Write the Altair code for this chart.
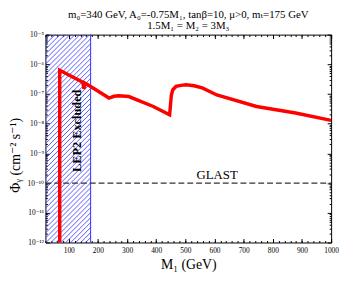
import altair as alt
import pandas as pd
import numpy as np

# ---- data ----
m1 = [69, 69, 148, 152, 156, 171, 238, 255, 272, 306, 390, 446, 452, 457, 468,
      485, 502, 530, 558, 608, 744, 878, 1000]
phi = [1e-12, 6.3e-7, 2.5e-7, 1.5e-7, 2.3e-7, 1.9e-7, 7.3e-8, 8.4e-8, 8.7e-8,
       8.2e-8, 3.8e-8, 2.0e-8, 9.3e-8, 1.4e-7, 1.8e-7, 1.95e-7, 2.05e-7, 1.9e-7,
       1.6e-7, 9.3e-8, 3.8e-8, 2.3e-8, 1.3e-8]
lep2_limit = 175
glast_level = 1e-10
x_domain = [20, 1000]
y_domain = [1e-12, 1e-5]
x_major = list(range(100, 1001, 100))
x_minor = list(range(20, 1001, 20))
y_major = [10.0 ** e for e in range(-12, -4)]
y_minor = [k * 10.0 ** e for e in range(-12, -5) for k in range(2, 10)]
texts = ["GLAST", "LEP2 Excluded"]
text_m1 = [609, 127]
text_phi = [1e-10, 5.8e-9]
title_lines = ["m\u2080=340 GeV,  A\u2080=-0.75M\u2081, tan\u03b2=10, \u03bc>0, m\u209c=175 GeV",
               "1.5M\u2081 = M\u2082 = 3M\u2083"]

font = "Liberation Serif, DejaVu Serif, serif"

curve = pd.DataFrame({"M1": m1, "phi": phi, "order": list(range(len(m1)))})

# hatch pattern for the excluded region (45 degree lines)
lo, hi = np.log10(y_domain[0]), np.log10(y_domain[1])
slope = 101.6   # M1 units per decade gives ~45 degrees on screen
step = 17.0
rows = []
a = float(lep2_limit)
while a > x_domain[0] - (hi - lo) * slope:
    xs = max(a, x_domain[0])
    xe = min(a + (hi - lo) * slope, lep2_limit)
    if xe > xs:
        rows.append({"x1": xs, "x2": xe,
                     "y1": 10 ** (lo + (xs - a) / slope),
                     "y2": 10 ** (lo + (xe - a) / slope)})
    a -= step
hatch = pd.DataFrame(rows)
bound = pd.DataFrame({"x": [lep2_limit], "y1": [y_domain[0]], "y2": [y_domain[1]]})
glast = pd.DataFrame({"x1": [x_domain[0]], "x2": [x_domain[1]], "y": [glast_level]})
lab = pd.DataFrame({"t": texts, "M1": text_m1, "phi": text_phi})

xs_ = alt.Scale(domain=x_domain, nice=False, zero=False)
ys_ = alt.Scale(type="log", domain=y_domain, nice=False)

common = dict(domain=False, grid=False, tickColor="black", labelColor="black",
              labelFont=font, labelFontSize=7.5)

sup = "['\u207b\u00b9\u00b2','\u207b\u00b9\u00b9','\u207b\u00b9\u2070','\u207b\u2079','\u207b\u2078','\u207b\u2077','\u207b\u2076','\u207b\u2075']"

ax_x_main = alt.Axis(orient="bottom", values=x_major, format="d", tickSize=4, offset=-4,
                     labelPadding=4, labelFlush=False, labelOverlap=False,
                     title="M\u2081 (GeV)", titleFont=font, titleFontSize=14,
                     titleFontWeight="normal", titleColor="black", titlePadding=4, **common)
ax_y_main = alt.Axis(orient="left", values=y_major, tickSize=4, offset=-4, labelPadding=2,
                     labelExpr="'10' + " + sup + "[round(log(datum.value)/LN10) + 12]",
                     labelFlush=False, labelOverlap=False,
                     title="\u03a6\u1d67 (cm\u207b\u00b2 s\u207b\u00b9)", titleFont=font,
                     titleFontSize=14, titleFontWeight="normal", titleColor="black",
                     titleAngle=270, titleAlign="center", titleBaseline="alphabetic",
                     titleX=-30.5, titleY=122, **common)
ax_x_minor_b = alt.Axis(orient="bottom", values=x_minor, tickSize=2, offset=-2, labels=False,
                        title=None, **common)
ax_y_minor_l = alt.Axis(orient="left", values=y_minor, tickSize=2, offset=-2, labels=False,
                        title=None, **common)
ax_x_top = alt.Axis(orient="top", values=x_major, tickSize=4, offset=-4, labels=False,
                    title=None, **common)
ax_y_right = alt.Axis(orient="right", values=y_major, tickSize=4, offset=-4, labels=False,
                      title=None, **common)
ax_x_minor_t = alt.Axis(orient="top", values=x_minor, tickSize=2, offset=-2, labels=False,
                        title=None, **common)
ax_y_minor_r = alt.Axis(orient="right", values=y_minor, tickSize=2, offset=-2, labels=False,
                        title=None, **common)

hatch_layer = alt.Chart(hatch).mark_rule(color="#4646ff", strokeWidth=0.9, clip=True).encode(
    x=alt.X("x1:Q", scale=xs_, axis=ax_x_main),
    x2="x2",
    y=alt.Y("y1:Q", scale=ys_, axis=ax_y_main),
    y2="y2",
)

bound_layer = alt.Chart(bound).mark_rule(color="#3030ff", strokeWidth=1).encode(
    x=alt.X("x:Q", scale=xs_, axis=None),
    y=alt.Y("y1:Q", scale=ys_, axis=None),
    y2="y2",
)

curve_layer = alt.Chart(curve).mark_line(color="#ff0000", strokeWidth=3.5, clip=True).encode(
    x=alt.X("M1:Q", scale=xs_, axis=ax_x_minor_b),
    y=alt.Y("phi:Q", scale=ys_, axis=ax_y_minor_l),
    order="order:Q",
)

glast_layer = alt.Chart(glast).mark_rule(color="#333333", strokeWidth=1.4,
                                         strokeDash=[6, 3]).encode(
    x=alt.X("x1:Q", scale=xs_, axis=ax_x_top),
    x2="x2",
    y=alt.Y("y:Q", scale=ys_, axis=ax_y_right),
)

glast_text = alt.Chart(lab.iloc[[0]]).mark_text(font=font, fontSize=13, color="black",
                                                baseline="bottom", dy=-1).encode(
    x=alt.X("M1:Q", scale=xs_, axis=ax_x_minor_t),
    y=alt.Y("phi:Q", scale=ys_, axis=ax_y_minor_r),
    text="t:N",
)

lep_text = alt.Chart(lab.iloc[[1]]).mark_text(font=font, fontSize=12.5, fontWeight="bold",
                                              color="black", angle=270, align="center",
                                              baseline="middle").encode(
    x=alt.X("M1:Q", scale=xs_, axis=None),
    y=alt.Y("phi:Q", scale=ys_, axis=None),
    text="t:N",
)

chart = alt.layer(hatch_layer, bound_layer, glast_layer, curve_layer, glast_text, lep_text).resolve_axis(
    x="independent", y="independent"
).properties(
    width=290, height=211,
    autosize=alt.AutoSizeParams(type="none"),
    padding={"left": 38, "top": 25, "right": 8, "bottom": 32},
    title=alt.TitleParams(text=title_lines, font=font, fontSize=11, fontWeight="normal",
                          anchor="middle", offset=0, lineHeight=11, color="black"),
).configure_view(stroke="black", strokeWidth=1)

chart.save("out.html", embed_options={"renderer": "svg", "actions": False})
